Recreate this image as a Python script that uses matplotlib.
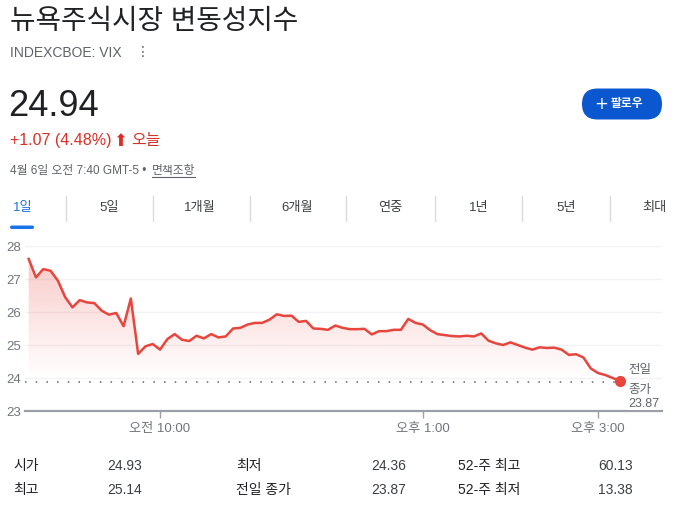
import matplotlib
matplotlib.use("Agg")
import matplotlib.pyplot as plt
from matplotlib.patches import FancyBboxPatch, Polygon
from matplotlib.lines import Line2D
import numpy as np

plt.rcParams['font.family'] = ['Liberation Sans', 'Noto Sans CJK KR', 'DejaVu Sans']

# dados (VIX, pontos a cada 5 min a partir de 08:30)
inicio = 8 * 60 + 30
passo = 5
vix = [27.61, 27.05, 27.30, 27.25, 26.95, 26.45, 26.14, 26.36, 26.29, 26.27,
       26.04, 25.92, 25.97, 25.57, 26.41, 24.73, 24.96, 25.03, 24.86, 25.18,
       25.33, 25.16, 25.12, 25.28, 25.20, 25.33, 25.23, 25.26, 25.50, 25.52,
       25.62, 25.67, 25.67, 25.77, 25.93, 25.88, 25.89, 25.70, 25.73, 25.50,
       25.49, 25.46, 25.59, 25.52, 25.48, 25.48, 25.49, 25.32, 25.42, 25.42,
       25.46, 25.46, 25.79, 25.67, 25.62, 25.45, 25.33, 25.30, 25.27, 25.26,
       25.28, 25.26, 25.35, 25.13, 25.05, 25.00, 25.08, 25.00, 24.92, 24.86,
       24.93, 24.91, 24.92, 24.86, 24.70, 24.72, 24.62, 24.29, 24.15, 24.09,
       24.00, 23.91]
fech_anterior = 23.87

y_ticks = [23, 24, 25, 26, 27, 28]
x_ticks = [10 * 60, 13 * 60, 15 * 60]
x_rotulos = ['오전 10:00', '오후 1:00', '오후 3:00']

abas = ['1일', '5일', '1개월', '6개월', '연중', '1년', '5년', '최대']
stat_nomes = [['시가', '최고'], ['최저', '전일 종가'], ['52-주 최고', '52-주 최저']]
stat_valores = [['24.93', '25.14'], ['24.36', '23.87'], ['60.13', '13.38']]

titulo = '뉴욕주식시장 변동성지수'
ticker = 'INDEXCBOE: VIX'
preco = '24.94'
variacao = '+1.07 (4.48%)'
data_txt = '4월 6일 오전 7:40 GMT-5 • '

W, H = 674, 510
vermelho = '#e8453c'
cinza = '#5f6368'
escuro = '#202124'

fig = plt.figure(figsize=(W / 100, H / 100), dpi=100)
fig.patch.set_facecolor('white')


def px(x, y):
    return x / W, 1 - y / H


def txt(x, y, s, **kw):
    fx, fy = px(x, y)
    return fig.text(fx, fy, s, **kw)


# cabecalho
txt(10, 22, titulo, fontsize=20, color=escuro, va='center', fontweight='medium')
txt(10, 53, ticker, fontsize=10, color=cinza, va='center')
txt(136, 52, '⋮', fontsize=10, color=cinza, va='center', family=['DejaVu Sans'])
txt(8, 106, preco, fontsize=26, color=escuro, va='center')
txt(10, 141, variacao, fontsize=11.5, color='#d93025', va='center')
txt(113, 141, '⬆', fontsize=12, color='#d93025', va='center', family=['DejaVu Sans'])
txt(131, 141, '오늘', fontsize=11.5, color='#d93025', va='center')
txt(10, 171, data_txt, fontsize=8.5, color=cinza, va='center')
txt(152, 171, '면책조항', fontsize=8.5, color=cinza, va='center')
fig.add_artist(Line2D([152 / W, 195 / W], [1 - 177.5 / H] * 2, color=cinza, lw=0.8))

# botao seguir
bx, by = px(582, 120.5)
botao = FancyBboxPatch((bx, by), 80 / W, 31 / H, boxstyle='round,pad=0,rounding_size=0.023',
                       transform=fig.transFigure, facecolor='#0b57d0', edgecolor='none',
                       mutation_aspect=W / H)
fig.add_artist(botao)
txt(601, 104, '+', fontsize=12, color='white', va='center', ha='center',
    family=['DejaVu Sans'])
txt(611, 104.5, '팔로우', fontsize=8.5, color='white', va='center', fontweight='bold')

# abas
aba_x = [22.5, 109, 200, 297, 390, 479, 566, 654]
for i, nome in enumerate(abas):
    cor = '#1a73e8' if i == 0 else '#3c4043'
    txt(aba_x[i], 208, nome, fontsize=9.5, color=cor, va='center', ha='center')
for sx in [66, 153, 250, 346, 435, 522, 610]:
    fig.add_artist(Line2D([sx / W] * 2, [1 - 197 / H, 1 - 222 / H], color='#dadce0', lw=1))
ux, uy = px(10, 230)
fig.add_artist(FancyBboxPatch((ux, uy), 24 / W, 3.5 / H, boxstyle='round,pad=0,rounding_size=0.003',
                              transform=fig.transFigure, facecolor='#1a73e8', edgecolor='none'))

# grafico
x = inicio + passo * np.arange(len(vix))
y = np.array(vix)
x0, x1 = 507.5, 943.8
y0, y1 = 23, 28.2
ax_top = 247 - 0.2 * 33
ax = fig.add_axes([25 / W, 1 - 412 / H, (662 - 25) / W, (412 - ax_top) / H])
ax.set_xlim(x0, x1)
ax.set_ylim(y0, y1)
ax.set_facecolor('none')
for s in ['top', 'right', 'left']:
    ax.spines[s].set_visible(False)
ax.spines['bottom'].set_color('#9aa0a6')
ax.spines['bottom'].set_linewidth(1.6)

for yt in y_ticks[1:]:
    ax.axhline(yt, color='#f1f3f4', lw=1, zorder=0)

ax.set_yticks(y_ticks)
ax.set_yticklabels([str(v) for v in y_ticks])
ax.tick_params(axis='y', length=0, pad=3, labelsize=9.5, labelcolor='#70757a')
ax.set_xticks(x_ticks)
ax.set_xticklabels(x_rotulos)
ax.tick_params(axis='x', length=5, width=1, color='#9aa0a6', pad=3, labelsize=9.5,
               labelcolor='#70757a')

# preenchimento em gradiente
grad = np.zeros((200, 2, 4))
rgb = matplotlib.colors.to_rgb(vermelho)
grad[..., 0], grad[..., 1], grad[..., 2] = rgb
yy = np.linspace(y1, y0, 200)
grad[..., 3] = (np.clip((yy - 24.0) / (27.6 - 24.0), 0, 1) * 0.28)[:, None]
im = ax.imshow(grad, extent=[x0, x1, y0, y1], aspect='auto', zorder=1, interpolation='bilinear')
verts = np.vstack([np.column_stack([x, y]), [[x[-1], y0], [x[0], y0]]])
clip = Polygon(verts, closed=True, transform=ax.transData, facecolor='none', edgecolor='none')
ax.add_patch(clip)
im.set_clip_path(clip)

ax.plot([x0, x[-1]], [fech_anterior] * 2, color='#5f6368', lw=1.1, ls=(0, (1, 6)), zorder=2)
ax.plot(x, y, color=vermelho, lw=1.8, zorder=3, solid_joinstyle='round')
ax.plot(x[-1], y[-1], 'o', color=vermelho, ms=7, zorder=4)

ax.text(x[-1] + 6, 24.27, '전일', fontsize=9, color=cinza, va='center')
ax.text(x[-1] + 6, 23.67, '종가', fontsize=9, color=cinza, va='center')
ax.text(x[-1] + 6, 23.24, '23.87', fontsize=9, color=cinza, va='center',
        bbox=dict(facecolor='white', edgecolor='none', pad=0.5))

# estatisticas
col_nome = [13, 236, 458]
col_val = [107, 371, 598]
lin_y = [466.5, 490.5]
for c in range(3):
    for r in range(2):
        txt(col_nome[c], lin_y[r], stat_nomes[c][r], fontsize=10, color=escuro, va='center')
        txt(col_val[c], lin_y[r], stat_valores[c][r], fontsize=10, color='#3c4043', va='center')

fig.savefig('out.png', dpi=100, facecolor='white')
